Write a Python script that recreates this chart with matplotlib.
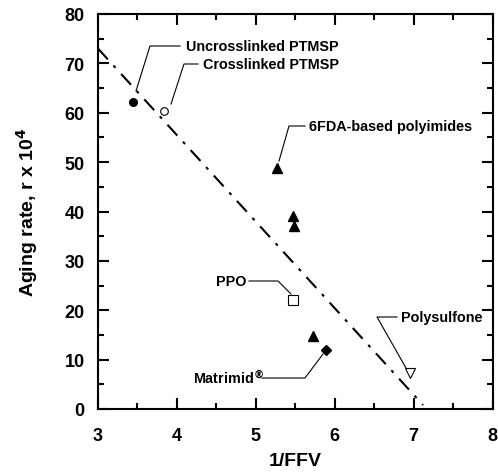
import matplotlib
matplotlib.use("Agg")
import matplotlib.pyplot as plt
import numpy as np

plt.rcParams['font.family'] = ['Liberation Sans', 'DejaVu Sans']
plt.rcParams['font.weight'] = 'bold'

# data
ptmsp_uncross = (3.44, 62.1)
ptmsp_cross = (3.84, 60.3)
fda_x = [5.27, 5.47, 5.49, 5.72]
fda_y = [48.9, 39.0, 37.0, 14.8]
ppo = (5.47, 22.0)
matrimid = (5.89, 12.0)
polysulfone = (6.95, 7.2)
fit_x = [3.0, 7.12]
fit_y = [73.0, 0.8]

xticks = [3, 4, 5, 6, 7, 8]
yticks = [0, 10, 20, 30, 40, 50, 60, 70, 80]

fig = plt.figure(figsize=(4.98, 4.77), dpi=100)
W, H = 498, 477
L, R, T, B = 98, 492.5, 15, 410
ax = fig.add_axes([L / W, (H - B) / H, (R - L) / W, (B - T) / H])

def px(xp, yp):
    return 3 + (xp - L) / ((R - L) / 5), (B - yp) / ((B - T) / 80)

ax.plot(fit_x, fit_y, color='black', lw=1.5, linestyle=(0, (7, 4, 1.5, 4)))

ax.plot(*ptmsp_uncross, 'o', ms=5.5, color='black')
ax.plot(*ptmsp_cross, 'o', ms=5.5, mfc='white', mec='black', mew=0.8)
ax.plot(fda_x, fda_y, '^', ms=6.5, color='black', ls='none')
ax.plot(*ppo, 's', ms=6.5, mfc='white', mec='black', mew=0.8)
ax.plot(*matrimid, 'D', ms=5, color='black')
ax.plot(*polysulfone, 'v', ms=7, mfc='white', mec='black', mew=0.8)

fs = 10.4
def label(text, text_px, corner_px, end_px, hline_end_px, ha='left'):
    tx, ty = px(*text_px)
    ax.text(tx, ty, text, fontsize=fs, fontweight='bold', ha=ha, va='center')
    cx, cy = px(*corner_px)
    ex, ey = px(*end_px)
    hx, hy = px(*hline_end_px)
    ax.plot([hx, cx, ex], [hy, cy, ey], color='black', lw=0.8)

label('Uncrosslinked PTMSP', (186, 47), (150, 47), (136, 92), (180, 47))
label('Crosslinked PTMSP', (203, 65), (184, 65), (171, 105), (198, 65))
label('6FDA-based polyimides', (309, 127), (289, 127), (279, 162), (305, 127))
label('PPO', (246, 282), (278, 282), (291, 295), (249, 282), ha='right')
label('Polysulfone', (401, 318), (377, 318), (406, 369), (397, 318))
label('Matrimid$^{\\circledR}$', (264, 378), (305, 379), (323, 355), (262, 379), ha='right')

ax.set_xlim(3, 8)
ax.set_ylim(0, 80)
ax.set_xticks(xticks)
ax.set_yticks(yticks)
ax.set_xticks(np.arange(3.5, 8, 1.0), minor=True)
ax.set_yticks(np.arange(5, 80, 10), minor=True)
ax.tick_params(which='both', direction='in', top=True, right=True, width=1.5,
               labelsize=13)
ax.tick_params(axis='x', which='major', pad=13)
ax.tick_params(axis='y', which='major', pad=9.5)
ax.tick_params(which='major', length=8)
ax.tick_params(which='minor', length=4)
for lab in ax.get_xticklabels() + ax.get_yticklabels():
    lab.set_fontweight('bold')
for s in ax.spines.values():
    s.set_linewidth(1.5)
ax.set_xlabel('1/FFV', fontsize=14, fontweight='bold', labelpad=6)
ax.set_ylabel('Aging rate, r x 10$^{\\mathbf{4}}$', fontsize=14, fontweight='bold', labelpad=18)

fig.savefig('out.png', dpi=100)
